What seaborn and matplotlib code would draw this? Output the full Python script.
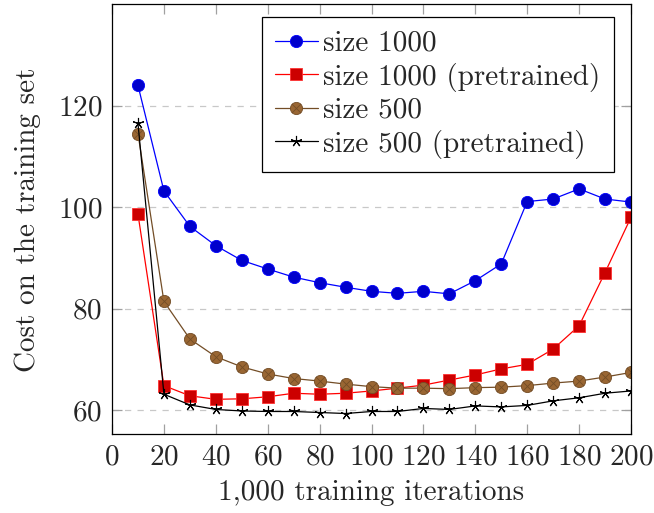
import numpy as np
import pandas as pd
import matplotlib
matplotlib.use("Agg")
import matplotlib.pyplot as plt
from matplotlib.path import Path
import seaborn as sns

iterations = [10, 20, 30, 40, 50, 60, 70, 80, 90, 100,
              110, 120, 130, 140, 150, 160, 170, 180, 190, 200]
size1000 = [124.0, 103.2, 96.2, 92.4, 89.5, 87.8, 86.2, 85.1, 84.2, 83.4,
            83.0, 83.4, 82.9, 85.5, 88.8, 101.1, 101.6, 103.6, 101.6, 101.0]
size1000_pre = [98.6, 64.8, 62.8, 62.1, 62.2, 62.6, 63.3, 63.1, 63.3, 63.75,
                64.3, 64.9, 65.9, 66.9, 68.1, 69.0, 72.0, 76.6, 87.1, 98.0]
size500 = [114.5, 81.4, 74.0, 70.5, 68.5, 67.1, 66.2, 65.7, 65.1, 64.6,
           64.3, 64.3, 64.2, 64.4, 64.5, 64.8, 65.3, 65.7, 66.5, 67.4]
size500_pre = [116.5, 63.1, 61.0, 60.1, 59.8, 59.7, 59.7, 59.5, 59.3, 59.7,
               59.7, 60.3, 60.1, 60.8, 60.6, 60.9, 61.8, 62.4, 63.3, 63.75]
labels = ["size 1000", "size 1000 (pretrained)", "size 500", "size 500 (pretrained)"]
xticks = [0, 20, 40, 60, 80, 100, 120, 140, 160, 180, 200]
yticks = [60, 80, 100, 120]

sns.set_style("white")
plt.rcParams["font.family"] = ["cmr10", "DejaVu Serif"]
plt.rcParams["mathtext.fontset"] = "cm"
plt.rcParams["axes.formatter.use_mathtext"] = True

# otimes marker: circle with an x inside
s = np.sqrt(0.5)
circ = Path.unit_circle()
xpath = Path([(-s, -s), (s, s), (-s, s), (s, -s)],
             [Path.MOVETO, Path.LINETO, Path.MOVETO, Path.LINETO])
otimes = Path.make_compound_path(circ, xpath)

fig = plt.figure(figsize=(6.54, 5.13), dpi=100)
ax = fig.add_axes([0.1713, 0.1534, 0.9648 - 0.1713, 0.9916 - 0.1534])

FS = 21
lw = 0.9
sns.lineplot(x=iterations, y=size1000, ax=ax, color="#0000ff", lw=lw,
             marker="o", markersize=8.8, markerfacecolor="#0000cc",
             markeredgecolor="#0000ff", markeredgewidth=0.6, label=labels[0])
sns.lineplot(x=iterations, y=size1000_pre, ax=ax, color="#ff0000", lw=lw,
             marker="s", markersize=8.0, markerfacecolor="#cc0000",
             markeredgecolor="#ff3030", markeredgewidth=0.6, label=labels[1])
sns.lineplot(x=iterations, y=size500, ax=ax, color="#734d26", lw=lw,
             marker=otimes, markersize=8.8, markerfacecolor="#996633",
             markeredgecolor="#734d26", markeredgewidth=0.6, label=labels[2])
sns.lineplot(x=iterations, y=size500_pre, ax=ax, color="black", lw=lw,
             marker=(5, 2, 0), markersize=8.0, markerfacecolor="black",
             markeredgecolor="black", markeredgewidth=0.8, label=labels[3])

ax.set_xlim(0, 200)
ax.set_ylim(55.2, 140)
ax.set_xticks(xticks)
ax.set_yticks(yticks)
ax.yaxis.grid(True, linestyle=(0, (5, 5)), color="#c8c8c8", lw=0.9)
ax.xaxis.grid(False)
ax.tick_params(axis="both", which="both", direction="in", length=7, width=0.9,
               color="#a0a0a0", top=True, right=True, bottom=True, left=True,
               labelsize=FS, pad=7)
for sp in ax.spines.values():
    sp.set_color("black")
    sp.set_linewidth(0.9)

ax.set_xlabel("1,000 training iterations", fontsize=FS, labelpad=7)
ax.set_ylabel("Cost on the training set", fontsize=FS, labelpad=12)

leg = ax.legend(loc="upper right", bbox_to_anchor=(0.967, 0.970), fontsize=FS,
                frameon=True, fancybox=False, edgecolor="black", framealpha=1,
                handlelength=1.45, handletextpad=0.2, labelspacing=0.2,
                borderpad=0.45, borderaxespad=0.0)
leg.get_frame().set_linewidth(0.9)

fig.savefig("out.png", dpi=100)
